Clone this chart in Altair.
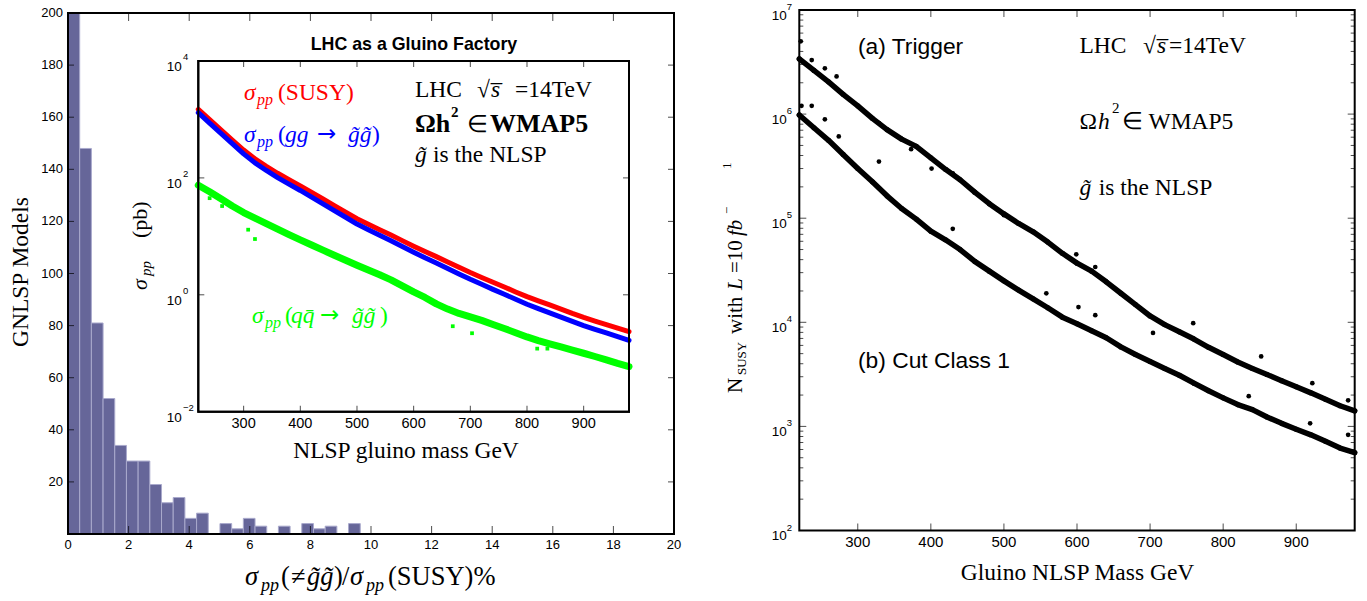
import altair as alt
import numpy as np
import pandas as pd

# ---------------------------------------------------------------------------
# Left panel: number of gluino-NLSP models vs. the non-gg share of the
# SUSY cross section (in percent)
# ---------------------------------------------------------------------------
ratio_counts = [215, 148, 81, 52, 34, 28, 28, 19, 12, 14, 6, 8, 0,
                4, 2, 6, 3, 0, 3, 0, 4, 2, 3, 0, 4]
ratio_top_edge = 9.645            # upper edge of the last histogram bin (%)
ratio_ticks = list(range(0, 21, 2))
count_ticks = list(range(20, 201, 20))

# ---------------------------------------------------------------------------
# Inset: LHC production cross sections (pb) vs. NLSP gluino mass (GeV)
# ---------------------------------------------------------------------------
inset_mass = list(range(220, 981, 20))
sigma_susy = [1490, 990, 665, 445, 300, 212, 158, 120, 93, 73, 56.5, 43.5, 33.5,
              26, 20, 16.1, 13.0, 10.5, 8.45, 6.8, 5.5, 4.5, 3.65, 2.95, 2.4,
              1.98, 1.64, 1.36, 1.12, 0.93, 0.79, 0.67, 0.57, 0.48, 0.41,
              0.356, 0.31, 0.27, 0.234]
sigma_gg = [1310, 865, 578, 385, 258, 181, 134, 101, 78, 61, 47, 36, 27.5,
            21.2, 16.2, 13.0, 10.4, 8.4, 6.7, 5.35, 4.3, 3.5, 2.83, 2.27, 1.84,
            1.51, 1.24, 1.02, 0.84, 0.69, 0.58, 0.49, 0.415, 0.35, 0.298,
            0.257, 0.223, 0.193, 0.166]
sigma_qq = [75, 58, 44, 33, 25.5, 20.5, 16.5, 13.3, 10.7, 8.7, 7.1, 5.8, 4.75,
            3.9, 3.2, 2.65, 2.2, 1.8, 1.42, 1.12, 0.9, 0.7, 0.57, 0.48, 0.42,
            0.365, 0.31, 0.265, 0.225, 0.19, 0.165, 0.145, 0.128, 0.113, 0.1,
            0.088, 0.077, 0.067, 0.059]
qq_stray_mass = [240, 262, 308, 320, 669, 703, 818, 836]
qq_stray_sigma = [45, 33, 13, 9, 0.29, 0.22, 0.12, 0.12]
inset_mass_ticks = [300, 400, 500, 600, 700, 800, 900]
inset_sigma_labels = [1e-2, 1, 1e2, 1e4]
inset_sigma_exponents = ["\u22122", "0", "2", "4"]
inset_sigma_ticks = [1, 1e2]

# ---------------------------------------------------------------------------
# Right panel: expected SUSY events with L = 10 fb^-1 vs. gluino NLSP mass
# ---------------------------------------------------------------------------
nlsp_mass = list(range(220, 981, 20))
n_trigger = [3.39e6, 2.63e6, 2.04e6, 1.55e6, 1.20e6, 9.1e5, 7.1e5, 5.75e5, 4.9e5,
             3.8e5, 2.95e5, 2.34e5, 1.78e5, 1.38e5, 1.10e5, 8.9e4, 7.4e4, 5.9e4,
             4.6e4, 3.7e4, 3.1e4, 2.45e4, 1.9e4, 1.48e4, 1.15e4, 9.5e3, 8.1e3,
             6.9e3, 5.75e3, 4.9e3, 4.15e3, 3.6e3, 3.15e3, 2.75e3, 2.4e3, 2.1e3,
             1.82e3, 1.58e3, 1.41e3]
n_cut1 = [9.8e5, 7.4e5, 5.6e5, 4.1e5, 3.0e5, 2.24e5, 1.64e5, 1.24e5, 9.8e4, 7.5e4,
          6.2e4, 5.0e4, 3.85e4, 3.1e4, 2.5e4, 2.04e4, 1.68e4, 1.38e4, 1.12e4,
          9.7e3, 8.3e3, 7.1e3, 5.8e3, 4.9e3, 4.2e3, 3.6e3, 3.1e3, 2.6e3, 2.2e3,
          1.88e3, 1.62e3, 1.45e3, 1.23e3, 1.07e3, 940, 830, 720, 620, 560]
trigger_stray_mass = [222, 237, 255, 271, 329, 373, 401, 430, 500, 599, 625, 759,
                      852, 922, 971]
trigger_stray_n = [5.0e6, 3.3e6, 2.75e6, 2.3e6, 8.2e5, 4.6e5, 3.0e5, 2.7e5, 1.07e5,
                   4.5e4, 3.4e4, 9.8e3, 4.7e3, 2.6e3, 1.78e3]
cut1_stray_mass = [223, 237, 255, 274, 329, 430, 558, 602, 625, 704, 835, 919, 971]
cut1_stray_n = [1.2e6, 1.2e6, 8.9e5, 6.1e5, 3.5e5, 7.9e4, 1.9e4, 1.4e4, 1.17e4,
                7.9e3, 1.95e3, 1.07e3, 830]
nlsp_mass_ticks = [300, 400, 500, 600, 700, 800, 900]
n_decades = [1e2, 1e3, 1e4, 1e5, 1e6, 1e7]
n_decade_exponents = ["2", "3", "4", "5", "6", "7"]
n_minor = [m * d for d in [1e2, 1e3, 1e4, 1e5, 1e6] for m in range(2, 10)]

# ---------------------------------------------------------------------------
# Styling
# ---------------------------------------------------------------------------
SANS = "Liberation Sans"
SERIF = "Liberation Serif"
RED, BLUE, GREEN, INK = "#ff0000", "#0000ff", "#00ff00", "#000000"
BAR_FILL, BAR_EDGE = "#666699", "#a9a9cc"
W, H = 1367, 601

# pixel placement of the three plotting boxes inside the canvas
hx = alt.Scale(domain=[0, 20], range=[68, 674], nice=False, zero=False)
hy = alt.Scale(domain=[0, 200], range=[534, 13], nice=False, clamp=True)
ix = alt.Scale(domain=[220, 980], range=[198.3, 629], nice=False, zero=False)
iy = alt.Scale(type="log", domain=[1e-2, 1e4], range=[411.7, 61], nice=False)
rx = alt.Scale(domain=[220, 980], range=[799.3, 1354.7], nice=False, zero=False)
ry = alt.Scale(type="log", domain=[1e2, 1e7], range=[530.5, 10], nice=False)

one_row = pd.DataFrame({"frame": [0]})


def box(sx, sy, x0, x1, y0, y1, **mk):
    return alt.Chart(one_row).mark_rect(stroke=INK, strokeWidth=2, **mk).encode(
        x=alt.X(datum=x0, type="quantitative", scale=sx, axis=None),
        x2=alt.X2(datum=x1),
        y=alt.Y(datum=y0, type="quantitative", scale=sy, axis=None),
        y2=alt.Y2(datum=y1))


def xticks(values, sx, sy, at, length, shift):
    return alt.Chart(pd.DataFrame({"v": values})).mark_tick(
        orient="vertical", size=length, thickness=1, color=INK, yOffset=shift
    ).encode(x=alt.X("v:Q", scale=sx, axis=None),
             y=alt.Y(datum=at, type="quantitative", scale=sy, axis=None))


def yticks(values, sx, sy, at, length, shift):
    return alt.Chart(pd.DataFrame({"v": values})).mark_tick(
        orient="horizontal", size=length, thickness=1, color=INK, xOffset=shift
    ).encode(x=alt.X(datum=at, type="quantitative", scale=sx, axis=None),
             y=alt.Y("v:Q", scale=sy, axis=None))


def xlabels(values, texts, sx, sy, at, size, dy):
    df = pd.DataFrame({"v": values, "label": texts})
    return alt.Chart(df).mark_text(font=SANS, fontSize=size, color=INK, align="center",
                                   baseline="middle", dy=dy).encode(
        x=alt.X("v:Q", scale=sx, axis=None),
        y=alt.Y(datum=at, type="quantitative", scale=sy, axis=None),
        text="label:N")


def ylabels(values, texts, sx, sy, at, size, dx, dy, align, baseline):
    df = pd.DataFrame({"v": values, "label": texts})
    return alt.Chart(df).mark_text(font=SANS, fontSize=size, color=INK, align=align,
                                   baseline=baseline, dx=dx, dy=dy).encode(
        x=alt.X(datum=at, type="quantitative", scale=sx, axis=None),
        y=alt.Y("v:Q", scale=sy, axis=None),
        text="label:N")


# ---------------------------------------------------------------------------
# Histogram panel
# ---------------------------------------------------------------------------
edges = np.linspace(0, ratio_top_edge, len(ratio_counts) + 1)
hist_df = pd.DataFrame({"lo": edges[:-1], "hi": edges[1:], "count": ratio_counts})

bars = alt.Chart(hist_df).mark_rect(fill=BAR_FILL, stroke=BAR_EDGE, strokeWidth=1).encode(
    x=alt.X("lo:Q", scale=hx, axis=None),
    x2="hi:Q",
    y=alt.Y("count:Q", scale=hy, axis=None),
    y2=alt.Y2(datum=0),
)
hist_panel = alt.layer(
    bars,
    box(hx, hy, 0, 20, 0, 200, fillOpacity=0),
    xticks(ratio_ticks[1:-1], hx, hy, 0, 8, -4),
    xticks(ratio_ticks[1:-1], hx, hy, 200, 8, 4),
    yticks(count_ticks[:-1], hx, hy, 0, 6, 3),
    yticks(count_ticks[:-1], hx, hy, 20, 6, -3),
    xlabels(ratio_ticks, [str(v) for v in ratio_ticks], hx, hy, 0, 13, 10.5),
    ylabels(count_ticks, [str(v) for v in count_ticks], hx, hy, 0, 13, -5, 0,
            "right", "middle"),
)

# ---------------------------------------------------------------------------
# Inset panel
# ---------------------------------------------------------------------------
inset_df = pd.DataFrame({"mass": inset_mass, "susy": sigma_susy,
                         "gg": sigma_gg, "qq": sigma_qq})
stray_df = pd.DataFrame({"mass": qq_stray_mass, "sigma": qq_stray_sigma})


def inset_band(field, color, width):
    return alt.Chart(inset_df).mark_line(color=color, strokeWidth=width,
                                         strokeJoin="round", strokeCap="round").encode(
        x=alt.X("mass:Q", scale=ix, axis=None),
        y=alt.Y(f"{field}:Q", scale=iy, axis=None))


inset_panel = alt.layer(
    box(ix, iy, 220, 980, 1e-2, 1e4, fill="white"),
    inset_band("susy", RED, 5),
    inset_band("gg", BLUE, 5),
    inset_band("qq", GREEN, 7),
    alt.Chart(stray_df).mark_square(color=GREEN, size=14, opacity=1).encode(
        x=alt.X("mass:Q", scale=ix, axis=None),
        y=alt.Y("sigma:Q", scale=iy, axis=None)),
    xticks(inset_mass_ticks, ix, iy, 1e-2, 6, -3),
    xticks(inset_mass_ticks, ix, iy, 1e4, 6, 3),
    yticks(inset_sigma_ticks, ix, iy, 220, 6, 3),
    yticks(inset_sigma_ticks, ix, iy, 980, 6, -3),
    box(ix, iy, 220, 980, 1e-2, 1e4, fillOpacity=0),
    xlabels(inset_mass_ticks, [str(v) for v in inset_mass_ticks], ix, iy, 1e-2, 14.5, 12.5),
    ylabels(inset_sigma_labels, ["10"] * 4, ix, iy, 220, 13.5, -31.6, 10,
            "left", "alphabetic"),
    ylabels(inset_sigma_labels, inset_sigma_exponents, ix, iy, 220, 9.5, -15.3, -1,
            "left", "alphabetic"),
)

# ---------------------------------------------------------------------------
# Event-count panel
# ---------------------------------------------------------------------------
band_df = pd.DataFrame({"mass": nlsp_mass, "trigger": n_trigger, "cut1": n_cut1})
stray_n_df = pd.concat([
    pd.DataFrame({"mass": trigger_stray_mass, "n": trigger_stray_n}),
    pd.DataFrame({"mass": cut1_stray_mass, "n": cut1_stray_n}),
])


def event_band(field):
    line = alt.Chart(band_df).mark_line(color=INK, strokeWidth=5.5, strokeJoin="round",
                                        strokeCap="round").encode(
        x=alt.X("mass:Q", scale=rx, axis=None),
        y=alt.Y(f"{field}:Q", scale=ry, axis=None))
    dots = alt.Chart(band_df).mark_circle(color=INK, size=26, opacity=1).encode(
        x=alt.X("mass:Q", scale=rx, axis=None),
        y=alt.Y(f"{field}:Q", scale=ry, axis=None))
    return line + dots


right_panel = alt.layer(
    box(rx, ry, 220, 980, 1e2, 1e7, fillOpacity=0),
    event_band("trigger"),
    event_band("cut1"),
    alt.Chart(stray_n_df).mark_circle(color=INK, size=22, opacity=1).encode(
        x=alt.X("mass:Q", scale=rx, axis=None),
        y=alt.Y("n:Q", scale=ry, axis=None)),
    xticks(nlsp_mass_ticks, rx, ry, 1e2, 7, -3.5),
    xticks(nlsp_mass_ticks, rx, ry, 1e7, 7, 3.5),
    yticks(n_decades[1:-1], rx, ry, 220, 7, 3.5),
    yticks(n_decades[1:-1], rx, ry, 980, 7, -3.5),
    yticks(n_minor, rx, ry, 220, 4, 2),
    yticks(n_minor, rx, ry, 980, 4, -2),
    xlabels(nlsp_mass_ticks, [str(v) for v in nlsp_mass_ticks], rx, ry, 1e2, 15, 11.5),
    ylabels(n_decades, ["10"] * len(n_decades), rx, ry, 220, 13.5, -27.5, 9.5,
            "left", "alphabetic"),
    ylabels(n_decades, n_decade_exponents, rx, ry, 220, 9.5, -12.5, 0,
            "left", "alphabetic"),
)

# ---------------------------------------------------------------------------
# Titles and annotations, set piece by piece so sub/superscripts sit right.
# (text, x, y, size, face, colour, align, angle)
# ---------------------------------------------------------------------------
g2 = "g\u0303g\u0303"
M = 23.5     # main serif size
S = 16       # subscript size
pieces = [
    # histogram axis titles
    ("GNLSP Models", 28, 347, M, "serif", INK, "left", 270),
    ("\u03c3", 245, 585, 26.5, "serif-i", INK, "left", 0),
    ("pp", 261, 591, 18, "serif-i", INK, "left", 0),
    ("(", 281, 585, 26.5, "serif", INK, "left", 0),
    ("\u2260", 291, 585, 26.5, "serif", INK, "left", 0),
    (g2, 307, 585, 26.5, "serif-i", INK, "left", 0),
    (")", 334, 585, 26.5, "serif", INK, "left", 0),
    ("/", 342, 585, 26.5, "serif", INK, "left", 0),
    ("\u03c3", 350, 585, 26.5, "serif-i", INK, "left", 0),
    ("pp", 366, 591, 18, "serif-i", INK, "left", 0),
    ("(SUSY)%", 388, 585, 26.5, "serif", INK, "left", 0),
    # inset title and axis titles
    ("LHC as a Gluino Factory", 414, 50, 17.8, "sans-b", INK, "center", 0),
    ("NLSP gluino mass GeV", 406, 458, M, "serif", INK, "center", 0),
    ("\u03c3", 147, 290, 22, "serif-i", INK, "left", 270),
    ("pp", 151, 276, 15, "serif-i", INK, "left", 270),
    ("(pb)", 147, 238, 22, "serif", INK, "left", 270),
    # inset curve labels
    ("\u03c3", 244, 100, M, "serif-i", RED, "left", 0),
    ("pp", 257, 105, S, "serif-i", RED, "left", 0),
    ("(SUSY)", 278, 100, M, "serif", RED, "left", 0),
    ("\u03c3", 244, 142, M, "serif-i", BLUE, "left", 0),
    ("pp", 257, 147, S, "serif-i", BLUE, "left", 0),
    ("(", 278, 142, M, "serif", BLUE, "left", 0),
    ("gg", 285, 142, M, "serif-i", BLUE, "left", 0),
    ("\u2192", 317, 141, 23, "arrow", BLUE, "left", 0),
    (g2, 348, 142, M, "serif-i", BLUE, "left", 0),
    (")", 372, 142, M, "serif", BLUE, "left", 0),
    ("\u03c3", 252, 323, M, "serif-i", GREEN, "left", 0),
    ("pp", 265, 328, S, "serif-i", GREEN, "left", 0),
    ("(", 285, 323, M, "serif", GREEN, "left", 0),
    ("qq\u0304", 291, 323, M, "serif-i", GREEN, "left", 0),
    ("\u2192", 320, 322, 23, "arrow", GREEN, "left", 0),
    (g2, 352, 323, M, "serif-i", GREEN, "left", 0),
    (")", 380, 323, M, "serif", GREEN, "left", 0),
    # inset physics notes
    ("LHC", 415, 97, M, "serif", INK, "left", 0),
    ("\u221a", 477, 97, M, "serif", INK, "left", 0),
    ("s\u0305", 491, 97, M, "serif-i", INK, "left", 0),
    ("=14TeV", 515, 97, M, "serif", INK, "left", 0),
    ("\u03a9h", 415, 132, 26, "serif-b", INK, "left", 0),
    ("2", 451, 117, 15, "serif-b", INK, "left", 0),
    ("\u2208", 467, 132, M, "serif", INK, "left", 0),
    ("WMAP5", 490, 132, 26, "serif-b", INK, "left", 0),
    ("g\u0303", 415, 162, M, "serif-i", INK, "left", 0),
    ("is the NLSP", 433, 162, M, "serif", INK, "left", 0),
    # right panel notes
    ("(a) Trigger", 858, 54, 22.8, "sans", INK, "left", 0),
    ("(b) Cut Class 1", 858, 368, 22.8, "sans", INK, "left", 0),
    ("LHC", 1079.5, 53, M, "serif", INK, "left", 0),
    ("\u221a", 1143, 53, M, "serif", INK, "left", 0),
    ("s\u0305", 1157, 53, M, "serif-i", INK, "left", 0),
    ("=14TeV", 1169, 53, M, "serif", INK, "left", 0),
    ("\u03a9", 1079.5, 129, M, "serif", INK, "left", 0),
    ("h", 1098, 129, M, "serif-i", INK, "left", 0),
    ("2", 1112, 113, 15, "serif", INK, "left", 0),
    ("\u2208 WMAP5", 1122, 129, M, "serif", INK, "left", 0),
    ("g\u0303", 1079.5, 195, M, "serif-i", INK, "left", 0),
    ("is the NLSP", 1098.7, 195, M, "serif", INK, "left", 0),
    # right panel axis titles
    ("Gluino NLSP Mass GeV", 1077.6, 580, M, "serif", INK, "center", 0),
    ("N", 742, 393, 21, "serif", INK, "left", 270),
    ("SUSY", 746, 375, 13, "serif", INK, "left", 270),
    ("with", 742, 334, 21, "serif", INK, "left", 270),
    ("L", 742, 290, 21, "serif-i", INK, "left", 270),
    ("=10", 742, 273, 21, "serif", INK, "left", 270),
    ("fb", 742, 236, 21, "serif-i", INK, "left", 270),
    ("\u2212", 731, 214, 13, "serif", INK, "left", 270),
    ("1", 731, 169, 13, "serif", INK, "left", 270),
]

FACES = {
    "serif": (SERIF, "normal", "normal"),
    "serif-i": (SERIF, "italic", "normal"),
    "serif-b": (SERIF, "normal", "bold"),
    "sans": (SANS, "normal", "normal"),
    "sans-b": (SANS, "normal", "bold"),
    "arrow": ("DejaVu Sans", "normal", "normal"),
}

text_df = pd.DataFrame(pieces, columns=["text", "px", "py", "fs", "face", "col", "align", "angle"])
text_layers = []
for (face, align, angle), grp in text_df.groupby(["face", "align", "angle"]):
    font, style, weight = FACES[face]
    text_layers.append(
        alt.Chart(grp.drop(columns=["face", "align", "angle"])).mark_text(
            font=font, fontStyle=style, fontWeight=weight, align=align,
            baseline="alphabetic", angle=int(angle)
        ).encode(
            x=alt.X("px:Q", scale=None, axis=None),
            y=alt.Y("py:Q", scale=None, axis=None),
            text="text:N",
            size=alt.Size("fs:Q", scale=None, legend=None),
            color=alt.Color("col:N", scale=None, legend=None),
        )
    )

chart = alt.layer(hist_panel, inset_panel, right_panel, *text_layers).resolve_scale(
    x="independent", y="independent", size="independent", color="independent"
).properties(
    width=W, height=H, padding=0, autosize=alt.AutoSizeParams(type="none"),
    background="white",
).configure_view(stroke=None)

chart.save("out.html", embed_options={"renderer": "svg", "actions": False})
